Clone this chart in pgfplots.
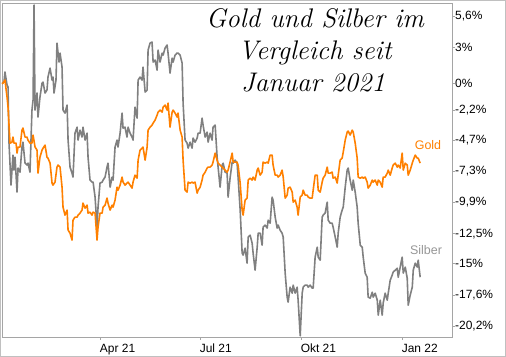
\documentclass[border=0pt]{standalone}
\usepackage{pgfplots}
\pgfplotsset{compat=1.18}
\usepackage{fontspec}
\setsansfont{Liberation Sans}
\definecolor{goldc}{RGB}{255,128,0}
\definecolor{silc}{RGB}{128,128,128}
\definecolor{silt}{RGB}{150,150,150}
\definecolor{framec}{RGB}{165,165,165}
\begin{document}
\begin{tikzpicture}
\useasboundingbox (-2bp,-20bp) rectangle (504bp,337bp);
\draw[framec!70, line width=0.8bp] (-1.6bp,-19.6bp) rectangle (503.6bp,336.6bp);
\begin{axis}[at={(0,0)}, anchor=south west, scale only axis,
  width=450bp, height=334bp,
  xmin=0, xmax=410, ymin=-21.1, ymax=6.72,
  axis line style={framec, line width=0.8bp},
  xtick={90,181,273,365}, xticklabels={Apr 21,Jul 21,Okt 21,Jan 22},
  ytick={5.6,3,0,-2.2,-4.7,-7.3,-9.9,-12.5,-15,-17.6,-20.2},
  yticklabels={{5,6\%},{3\%},{0\%},{-2,2\%},{-4,7\%},{-7,3\%},{-9,9\%},{-12,5\%},{-15\%},{-17,6\%},{-20,2\%}},
  ytick pos=right, xtick pos=bottom,
  minor y tick num=4,
  tick style={framec, line width=0.6bp}, tick align=outside,
  major tick length=3bp, minor tick length=2bp,
  ticklabel style={font=\sffamily\fontsize{12}{14}\selectfont, text=black},
  xticklabel style={anchor=north west, inner sep=0pt, xshift=-1bp, yshift=-4bp},
  yticklabel style={anchor=west, inner sep=0pt, xshift=0bp},
  clip=false,
]
\addplot[silc, line width=1.6bp, line join=round] coordinates {
(0,0) (1.8,0.13) (2.7,0.97) (4.6,-0.12) (5.5,-0.28) (6.4,-4.95) (8.2,-8.45) (10.0,-5.95) (10.9,-7.20) (11.9,-6.12)
(13.7,-9.03) (14.6,-7.03) (16.4,-7.37) (18.2,-5.28) (19.1,-4.87) (21.0,-6.62) (22.8,-6.78) (23.7,-6.62) (25.5,-7.37)
(27.3,-2.20) (28.3,-1.37) (29.2,6.55) (30.1,-2.20) (31.9,-0.78) (32.8,-2.78) (34.6,-1.12) (36.5,0.05) (37.4,0.13)
(39.2,-0.78) (41.0,-0.53) (41.9,0.55) (43.8,1.30) (45.6,0.30) (46.5,0.55) (47.4,-0.78) (49.2,0.30) (50.1,3.38)
(52.0,1.80) (52.9,2.55) (54.7,1.38) (55.6,-2.20) (57.4,-2.45) (59.3,-1.78) (60.2,-4.70) (62.0,-6.95) (63.8,-7.45)
(64.7,-7.78) (66.5,-4.12) (68.4,-3.62) (69.3,-4.70) (71.1,-3.87) (72.9,-4.45) (73.8,-3.62) (75.7,-4.70) (77.5,-4.12)
(78.4,-6.12) (80.2,-8.03) (82.0,-8.20) (83.0,-8.20) (84.8,-9.45) (86.6,-11.95) (87.5,-10.28) (89.3,-8.28) (91.2,-8.20)
(92.1,-8.03) (93.9,-7.78) (95.7,-6.95) (96.6,-6.62) (98.5,-8.62) (100.3,-7.78) (101.2,-8.03) (103.0,-5.28) (104.8,-4.70)
(105.7,-5.28) (107.6,-4.12) (109.4,-2.45) (110.3,-3.70) (112.1,-3.62) (113.9,-4.45) (114.9,-3.62) (116.7,-4.12)
(118.5,-4.45) (119.4,-4.70) (121.2,-1.95) (123.1,-2.87) (124.0,0.30) (125.8,0.55) (127.6,0.30) (128.5,1.38)
(130.4,-0.70) (132.2,-0.53) (133.1,2.80) (134.9,3.38) (136.7,3.47) (137.7,1.80) (139.5,1.97) (141.3,1.13) (142.2,2.80)
(144.0,1.80) (145.9,2.55) (146.8,2.38) (148.6,2.97) (150.4,3.22) (151.3,2.55) (153.1,0.88) (155.0,2.13) (155.9,1.80)
(157.7,2.38) (159.5,2.55) (160.4,2.55) (162.3,2.38) (164.1,1.72) (165.0,-1.62) (166.8,-4.70) (168.6,-4.95) (169.6,-5.37)
(171.4,-4.87) (173.2,-5.37) (174.1,-4.53) (175.9,-4.87) (177.8,-4.53) (178.7,-4.12) (180.5,-4.12) (182.3,-2.87)
(183.2,-3.45) (185.1,-4.45) (186.9,-4.03) (187.8,-4.87) (189.6,-4.12) (191.4,-4.70) (192.3,-3.62) (194.2,-3.45)
(196.0,-6.12) (196.9,-6.95) (198.7,-8.62) (200.6,-6.78) (201.5,-6.62) (203.3,-7.37) (205.1,-7.45) (206.0,-9.45)
(207.8,-7.87) (209.7,-6.53) (210.6,-6.62) (212.4,-6.37) (214.2,-6.62) (215.1,-7.78) (217.0,-10.53) (218.8,-14.12)
(219.7,-14.28) (221.5,-13.70) (223.3,-14.95) (224.3,-12.78) (226.1,-12.62) (227.9,-13.28) (228.8,-14.12) (230.6,-15.53)
(232.5,-13.62) (233.4,-12.45) (235.2,-12.45) (237.0,-13.45) (237.9,-11.95) (239.7,-11.78) (241.6,-12.03) (242.5,-11.37)
(244.3,-11.62) (246.1,-9.45) (247.0,-9.70) (248.9,-11.12) (250.7,-12.03) (251.6,-11.78) (253.4,-12.20) (255.2,-12.45)
(256.2,-12.78) (258.0,-15.78) (259.8,-17.78) (260.7,-18.20) (262.5,-16.95) (264.4,-17.45) (265.3,-16.78) (267.1,-17.45)
(268.9,-16.95) (269.8,-18.03) (271.7,-21.0) (273.5,-17.45) (274.4,-16.95) (276.2,-16.78) (278.0,-16.78) (279.0,-16.95)
(280.8,-16.78) (282.6,-17.03) (283.5,-17.03) (285.3,-14.45) (287.2,-13.62) (288.1,-14.45) (289.9,-14.70) (291.7,-11.12)
(292.6,-10.95) (294.4,-10.78) (296.3,-9.87) (297.2,-11.37) (299.0,-11.62) (300.8,-11.62) (301.7,-11.95) (303.6,-12.78)
(305.4,-13.62) (306.3,-12.45) (308.1,-11.12) (309.9,-10.53) (310.9,-10.28) (312.7,-8.62) (314.5,-7.20) (315.4,-7.03)
(317.2,-8.03) (319.1,-8.87) (320.0,-8.03) (321.8,-9.03) (323.6,-10.28) (324.5,-11.62) (326.4,-13.45) (328.2,-13.62)
(329.1,-14.45) (330.9,-15.78) (332.7,-16.12) (333.6,-17.78) (335.5,-17.87) (337.3,-17.37) (338.2,-17.78) (340.0,-17.45)
(341.9,-18.03) (342.8,-19.28) (344.6,-18.03) (346.4,-19.28) (347.3,-18.28) (349.1,-17.45) (351.0,-18.03) (351.9,-17.45)
(353.7,-16.37) (355.5,-15.95) (356.4,-15.70) (358.3,-15.53) (360.1,-15.37) (361.0,-16.12) (362.8,-15.28) (364.6,-14.45)
(365.6,-15.78) (367.4,-15.28) (369.2,-16.20) (370.1,-18.45) (371.9,-17.62) (373.8,-16.95) (374.7,-15.53) (376.5,-14.95)
(378.3,-15.28) (379.2,-14.70) (381.0,-16.12)
};
\addplot[goldc, line width=1.6bp, line join=round] coordinates {
(0,0) (0.9,0.05) (2.7,0.30) (4.6,-1.12) (5.5,-1.95) (7.3,-4.95) (9.1,-4.87) (10.0,-4.45) (10.9,-4.95) (12.8,-4.95)
(13.7,-5.78) (14.6,-5.28) (16.4,-5.28) (18.2,-3.87) (19.1,-3.70) (21.0,-4.45) (22.8,-4.45) (23.7,-4.70) (25.5,-4.95)
(27.3,-4.95) (28.3,-4.28) (30.1,-5.28) (31.9,-5.53) (32.8,-7.45) (34.6,-6.12) (36.5,-5.53) (37.4,-5.37) (39.2,-5.12)
(41.0,-6.12) (41.9,-6.20) (43.8,-6.62) (45.6,-8.28) (46.5,-8.45) (48.3,-8.20) (50.1,-6.95) (51.0,-6.78) (52.9,-6.95)
(54.7,-8.62) (55.6,-10.28) (57.4,-10.95) (59.3,-10.53) (60.2,-12.20) (62.0,-12.45) (63.8,-13.03) (64.7,-11.37)
(66.5,-11.12) (68.4,-11.12) (69.3,-10.95) (71.1,-10.78) (72.9,-10.53) (73.8,-9.95) (75.7,-10.37) (77.5,-10.12)
(78.4,-10.78) (80.2,-10.70) (82.0,-10.95) (83.0,-10.70) (84.8,-10.78) (86.6,-13.03) (87.5,-11.95) (89.3,-10.78)
(91.2,-10.78) (92.1,-10.28) (93.9,-10.12) (95.7,-9.53) (96.6,-9.95) (98.5,-10.53) (100.3,-10.12) (101.2,-10.28)
(103.0,-9.70) (104.8,-8.62) (105.7,-8.87) (107.6,-8.45) (109.4,-7.78) (110.3,-8.20) (112.1,-8.45) (113.9,-8.28)
(114.9,-8.20) (116.7,-8.45) (118.5,-8.70) (119.4,-8.20) (121.2,-7.62) (123.1,-7.87) (124.0,-6.37) (125.8,-5.53)
(127.6,-5.37) (128.5,-5.28) (130.4,-6.37) (132.2,-5.28) (133.1,-3.87) (134.9,-3.62) (136.7,-3.45) (137.7,-3.28)
(139.5,-3.03) (141.3,-2.62) (142.2,-2.37) (144.0,-2.20) (145.9,-2.37) (146.8,-1.95) (148.6,-1.78) (150.4,-2.20)
(151.3,-1.62) (153.1,-3.62) (155.0,-2.37) (155.9,-2.20) (157.7,-2.45) (159.5,-2.78) (160.4,-2.45) (162.3,-3.87)
(164.1,-4.45) (165.0,-6.37) (166.8,-8.87) (168.6,-9.03) (169.6,-8.20) (171.4,-8.28) (173.2,-8.20) (174.1,-8.28)
(175.9,-8.20) (177.8,-9.12) (178.7,-8.87) (180.5,-8.62) (182.3,-8.03) (183.2,-7.62) (185.1,-7.37) (186.9,-7.03)
(187.8,-6.95) (189.6,-6.95) (191.4,-6.78) (192.3,-6.53) (194.2,-5.78) (196.0,-6.37) (196.9,-6.62) (198.7,-6.78)
(200.6,-6.95) (203.3,-7.20) (205.1,-7.37) (206.0,-7.20) (207.8,-6.53) (209.7,-5.78) (210.6,-6.53) (212.4,-6.53)
(214.2,-6.53) (215.1,-6.78) (217.0,-8.28) (218.8,-10.53) (219.7,-10.95) (221.5,-9.70) (223.3,-9.53) (224.3,-8.03)
(226.1,-7.87) (227.9,-8.03) (228.8,-7.78) (230.6,-8.03) (232.5,-7.20) (233.4,-7.03) (235.2,-7.62) (237.0,-7.37)
(237.9,-6.53) (239.7,-6.62) (241.6,-6.53) (242.5,-6.62) (244.3,-5.95) (246.1,-5.95) (247.0,-6.78) (248.9,-7.62)
(250.7,-7.62) (251.6,-7.78) (253.4,-7.62) (255.2,-7.20) (256.2,-7.78) (258.0,-9.53) (259.8,-9.28) (260.7,-8.70)
(262.5,-8.62) (264.4,-9.03) (265.3,-9.87) (267.1,-9.70) (268.9,-10.28) (269.8,-10.95) (271.7,-9.45) (273.5,-9.28)
(274.4,-8.87) (276.2,-9.28) (278.0,-9.28) (279.0,-9.45) (280.8,-9.53) (282.6,-9.53) (283.5,-8.87) (285.3,-7.62)
(287.2,-7.62) (288.1,-8.87) (289.9,-9.03) (291.7,-8.20) (292.6,-7.87) (294.4,-7.62) (296.3,-6.95) (297.2,-7.45)
(299.0,-7.45) (300.8,-7.37) (301.7,-7.87) (303.6,-7.78) (305.4,-8.28) (306.3,-7.62) (308.1,-6.37) (309.9,-6.20)
(310.9,-5.70) (312.7,-4.70) (314.5,-4.03) (315.4,-3.95) (317.2,-4.28) (319.1,-3.87) (320.0,-4.03) (321.8,-4.95)
(323.6,-6.20) (324.5,-7.78) (326.4,-7.87) (328.2,-7.78) (329.1,-7.87) (330.9,-7.78) (332.7,-8.20) (333.6,-8.70)
(335.5,-8.45) (337.3,-8.03) (338.2,-8.20) (340.0,-8.03) (341.9,-8.45) (342.8,-8.03) (344.6,-8.20) (346.4,-8.62)
(347.3,-7.78) (349.1,-7.78) (351.0,-7.45) (351.9,-7.20) (353.7,-7.62) (355.5,-7.03) (356.4,-6.78) (358.3,-6.62)
(360.1,-6.95) (361.0,-6.78) (362.8,-7.03) (364.6,-5.78) (365.6,-7.20) (367.4,-6.62) (369.2,-6.78) (370.1,-7.62)
(371.9,-7.20) (373.8,-6.62) (374.7,-6.37) (376.5,-5.95) (378.3,-6.20) (379.2,-6.20) (381.0,-6.62)
};
\end{axis}
\node[anchor=base, font=\fontsize{27}{30}\selectfont\itshape] at (313bp,309bp) {Gold und Silber im};
\node[anchor=base, font=\fontsize{27}{30}\selectfont\itshape] at (313bp,277bp) {Vergleich seit};
\node[anchor=base, font=\fontsize{27}{30}\selectfont\itshape] at (311bp,245bp) {Januar 2021};
\node[font=\sffamily\fontsize{12.5}{14}\selectfont, text=goldc] at (426bp,192bp) {Gold};
\node[font=\sffamily\fontsize{12.5}{14}\selectfont, text=silt] at (424bp,87bp) {Silber};
\end{tikzpicture}
\end{document}
